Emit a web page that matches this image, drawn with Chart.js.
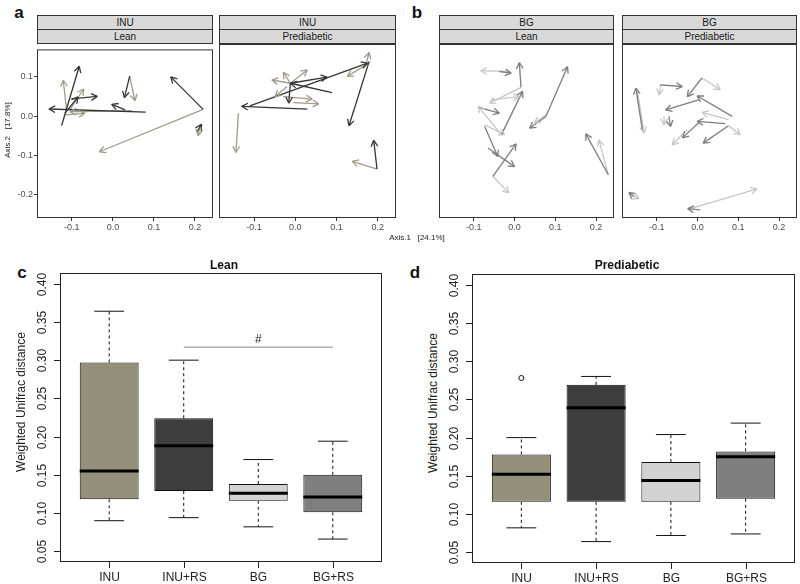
<!DOCTYPE html>
<html lang="en">
<head>
<meta charset="UTF-8">
<title>Weighted Unifrac distance</title>
<style>
  * { box-sizing: border-box; margin: 0; padding: 0; }
  body { position: relative; width: 800px; height: 584px; overflow: hidden; background: #fff;
         font-family: "Liberation Sans", Arial, sans-serif; color: #111; }
  canvas { position: absolute; }
  .strip { position: absolute; height: 15px; background: #d9d9d9; border: 1px solid #333;
           font-size: 10px; line-height: 13px; text-align: center; color: #1a1a1a; }
  .txt { position: absolute; white-space: pre; transform: translate(-50%, -50%); }
  .tag { font-size: 17px; font-weight: bold; }
  .main { font-size: 12px; font-weight: bold; }
  .ylab { font-size: 12px; transform: translate(-50%, -50%) rotate(-90deg); color: #222; }
  .axt { font-size: 8px; color: #222; }
</style>
</head>
<body>
  <div class="txt tag" style="left:19px;top:13px">a</div>
  <div class="txt tag" style="left:417px;top:13px">b</div>
  <div class="txt tag" style="left:22px;top:273px">c</div>
  <div class="txt tag" style="left:415px;top:273px">d</div>

  <div class="strip" style="left:37px;top:15px;width:176px">INU</div>
  <div class="strip" style="left:37px;top:29px;width:176px">Lean</div>
  <div class="strip" style="left:219px;top:15px;width:177px">INU</div>
  <div class="strip" style="left:219px;top:29px;width:177px">Prediabetic</div>
  <div class="strip" style="left:439px;top:15px;width:175px">BG</div>
  <div class="strip" style="left:439px;top:29px;width:175px">Lean</div>
  <div class="strip" style="left:622px;top:15px;width:175px">BG</div>
  <div class="strip" style="left:622px;top:29px;width:175px">Prediabetic</div>

  <canvas id="aLean" width="215" height="191" style="left:0;top:43px"></canvas>
  <canvas id="aPre" width="181" height="191" style="left:217px;top:43px"></canvas>
  <canvas id="bLean" width="179" height="191" style="left:437px;top:43px"></canvas>
  <canvas id="bPre" width="179" height="191" style="left:620px;top:43px"></canvas>

  <div class="txt axt" style="left:417px;top:237px">Axis.1   [24.1%]</div>
  <div class="txt axt" style="left:7px;top:130px;transform:translate(-50%,-50%) rotate(-90deg)">Axis.2   [17.8%]</div>

  <div class="txt main" style="left:224px;top:265px">Lean</div>
  <div class="txt main" style="left:627px;top:265px">Prediabetic</div>
  <div class="txt ylab" style="left:21px;top:402px">Weighted Unifrac distance</div>
  <div class="txt ylab" style="left:433px;top:403px">Weighted Unifrac distance</div>

  <canvas id="cBox" width="400" height="326" style="left:0;top:258px"></canvas>
  <canvas id="dBox" width="400" height="326" style="left:400px;top:258px"></canvas>

  <script src="https://cdn.jsdelivr.net/npm/chart.js"></script>
  <script>
    // ---- panels a/b: PCoA trajectories, arrows [x0, y0, x1, y1] ----
    const facetXTicks = [-0.1, 0.0, 0.1, 0.2];
    const facetYTicks = [-0.2, -0.1, 0.0, 0.1];

    // group 0 = INU, 1 = INU+RS
    const inuLeanArrows = [
      [-0.125, -0.024, -0.082, 0.127], [0.220, 0.017, 0.141, 0.100], [0.220, 0.017, -0.033, -0.091],
      [0.030, 0.016, -0.003, 0.030], [0.080, 0.010, -0.156, 0.018], [0.046, 0.014, -0.105, 0.011],
      [-0.101, 0.044, -0.038, 0.050], [-0.117, 0.007, -0.085, 0.049], [0.041, 0.102, 0.028, 0.047],
      [0.041, 0.100, 0.054, 0.039], [0.204, -0.042, 0.216, -0.021], [0.212, -0.025, 0.208, -0.050],
      [-0.113, 0.016, -0.121, 0.091], [-0.105, 0.016, -0.071, 0.069], [-0.117, 0.003, -0.068, 0.007]
    ];
    const inuLeanGroup = [1, 1, 0, 1, 1, 0, 1, 1, 1, 0, 1, 0, 0, 0, 0];

    const inuPreArrows = [
      [0.179, 0.127, 0.130, -0.032], [-0.110, 0.017, 0.175, 0.123], [0.179, 0.123, 0.126, 0.090],
      [0.029, 0.009, -0.130, 0.016], [-0.138, -0.001, -0.144, -0.098], [0.198, -0.139, 0.190, -0.068],
      [0.198, -0.139, 0.138, -0.120], [0.089, 0.050, -0.012, 0.073], [-0.012, 0.073, 0.077, 0.088],
      [-0.012, 0.073, -0.016, 0.024], [-0.012, 0.073, -0.057, 0.081], [-0.012, 0.073, -0.029, 0.100],
      [-0.012, 0.073, 0.029, 0.106], [-0.020, 0.065, -0.049, 0.040], [-0.030, 0.040, 0.041, 0.034],
      [-0.005, 0.025, 0.057, 0.022], [0.171, 0.119, 0.179, 0.149]
    ];
    const inuPreGroup = [1, 1, 0, 1, 0, 1, 0, 1, 1, 1, 0, 0, 0, 0, 0, 0, 0];

    // group 0 = BG, 1 = BG+RS
    const bgLeanArrows = [
      [-0.016, 0.102, -0.083, 0.104], [-0.037, 0.102, -0.008, 0.098], [0.016, 0.063, 0.012, 0.124],
      [0.016, 0.063, -0.061, 0.024], [0.077, -0.009, 0.130, 0.114], [0.077, -0.009, 0.037, -0.038],
      [-0.032, -0.054, 0.020, 0.053], [-0.032, -0.054, -0.089, 0.016], [-0.089, 0.014, -0.037, -0.001],
      [-0.073, -0.030, -0.024, -0.054], [-0.073, -0.034, -0.041, -0.108], [-0.065, -0.087, 0.000, -0.133],
      [-0.053, -0.157, 0.004, -0.077], [-0.053, -0.157, -0.014, -0.198], [0.230, -0.153, 0.175, -0.052],
      [0.230, -0.153, 0.207, -0.067], [0.077, -0.005, 0.049, -0.025], [-0.057, 0.032, 0.012, 0.040]
    ];
    const bgLeanGroup = [0, 1, 1, 0, 1, 1, 1, 0, 1, 0, 1, 1, 1, 0, 1, 0, 0, 0];

    const bgPreArrows = [
      [-0.135, -0.042, -0.151, 0.061], [-0.147, 0.053, -0.131, -0.050], [-0.092, 0.069, -0.037, 0.065],
      [-0.090, 0.069, -0.094, 0.044], [0.011, 0.086, -0.025, 0.040], [0.011, 0.086, 0.056, 0.057],
      [0.003, 0.032, -0.078, 0.007], [0.085, -0.009, -0.001, 0.042], [0.076, -0.017, 0.011, 0.001],
      [0.068, -0.027, -0.001, -0.021], [0.007, -0.021, -0.037, -0.062], [-0.025, -0.042, -0.062, -0.079],
      [0.076, -0.032, 0.014, -0.075], [0.076, -0.032, 0.105, -0.054], [-0.070, -0.009, -0.066, -0.034],
      [-0.082, -0.009, -0.082, -0.030], [-0.021, -0.238, 0.146, -0.188], [0.007, -0.240, -0.024, -0.237],
      [-0.155, -0.207, -0.168, -0.197], [-0.165, -0.202, -0.143, -0.212]
    ];
    const bgPreGroup = [1, 0, 1, 0, 1, 0, 1, 1, 0, 1, 1, 0, 1, 0, 1, 0, 0, 1, 1, 0];

    // ---- panels c/d: boxplot statistics ----
    const categories = ['INU', 'INU+RS', 'BG', 'BG+RS'];
    const boxTicks = [0.05, 0.10, 0.15, 0.20, 0.25, 0.30, 0.35, 0.40];

    const leanLow  = [0.090, 0.094, 0.082, 0.066];
    const leanQ1   = [0.118, 0.129, 0.116, 0.101];
    const leanMed  = [0.155, 0.188, 0.126, 0.121];
    const leanQ3   = [0.297, 0.224, 0.138, 0.150];
    const leanHigh = [0.364, 0.300, 0.170, 0.194];
    const leanSig  = [2, 4, 0.317];          // from category, to category, height

    const preLow  = [0.082, 0.064, 0.072, 0.074];
    const preQ1   = [0.116, 0.116, 0.116, 0.120];
    const preMed  = [0.152, 0.239, 0.144, 0.175];
    const preQ3   = [0.178, 0.269, 0.168, 0.182];
    const preHigh = [0.200, 0.280, 0.204, 0.219];
    const preOutliers = [[1, 0.278]];

    const boxColors = ['#948f78', '#3d3d3d', '#d3d3d3', '#7f7f7f'];
    const inuColors = ['#a09c8a', '#353535'];
    const bgColors  = ['#c6c6c6', '#7d7d7d'];

    const FONT = '"Liberation Sans", Arial, sans-serif';
    Chart.defaults.font.family = FONT;

    const arrowHeads = {
      id: 'arrowHeads',
      afterDatasetsDraw(chart) {
        const ctx = chart.ctx;
        chart.data.datasets.forEach((ds, i) => {
          const pts = chart.getDatasetMeta(i).data;
          const a = pts[0], b = pts[1];
          const ang = Math.atan2(b.y - a.y, b.x - a.x);
          ctx.save();
          ctx.strokeStyle = ds.borderColor;
          ctx.lineWidth = ds.borderWidth;
          ctx.beginPath();
          [-1, 1].forEach(s => {
            ctx.moveTo(b.x, b.y);
            ctx.lineTo(b.x - 7 * Math.cos(ang + s * 0.5), b.y - 7 * Math.sin(ang + s * 0.5));
          });
          ctx.stroke();
          ctx.restore();
        });
      }
    };

    const frame = {
      id: 'frame',
      afterDraw(chart) {
        const { ctx, chartArea: a } = chart;
        ctx.save();
        ctx.strokeStyle = '#333';
        ctx.lineWidth = 1;
        ctx.strokeRect(a.left + 0.5, a.top + 0.5, a.width - 1, a.height - 1);
        ctx.restore();
      }
    };

    function facet(id, arrows, groups, colors, showY) {
      const datasets = arrows.map((r, i) => ({
        data: [{ x: r[0], y: r[1] }, { x: r[2], y: r[3] }],
        borderColor: colors[groups[i]],
        borderWidth: 1.3,
        pointRadius: 0,
        showLine: true,
        order: groups[i] === 1 ? 0 : 1
      }));
      const ticks = { font: { size: 9 }, color: '#4d4d4d', padding: 1, callback: v => v.toFixed(1) };
      const grid = { drawOnChartArea: false, tickLength: 3, color: '#333' };
      return new Chart(document.getElementById(id), {
        type: 'scatter',
        data: { datasets },
        options: {
          responsive: false, animation: false, events: [],
          layout: { padding: { left: showY ? 0 : 2, right: 2, top: 1, bottom: 0 } },
          plugins: { legend: { display: false }, tooltip: { enabled: false } },
          scales: {
            x: {
              min: -0.185, max: 0.244, grid, ticks, border: { display: false },
              afterBuildTicks: s => { s.ticks = facetXTicks.map(v => ({ value: v })); },
              afterFit: s => { s.height = 16; }
            },
            y: {
              display: showY, min: -0.26, max: 0.17, grid, ticks, border: { display: false },
              afterBuildTicks: s => { s.ticks = facetYTicks.map(v => ({ value: v })); },
              afterFit: s => { s.width = showY ? 37 : 0; }
            }
          }
        },
        plugins: [arrowHeads, frame]
      });
    }

    facet('aLean', inuLeanArrows, inuLeanGroup, inuColors, true);
    facet('aPre', inuPreArrows, inuPreGroup, inuColors, false);
    facet('bLean', bgLeanArrows, bgLeanGroup, bgColors, false);
    facet('bPre', bgPreArrows, bgPreGroup, bgColors, false);

    // R-style axes for the boxplots
    const rAxes = {
      id: 'rAxes',
      afterDraw(chart, args, opts) {
        const { ctx, chartArea: a, scales: { x, y } } = chart;
        ctx.save();
        ctx.strokeStyle = '#222';
        ctx.fillStyle = '#222';
        ctx.lineWidth = 1;
        ctx.strokeRect(a.left + 0.5, a.top + 0.5, a.width - 1, a.height - 1);
        ctx.font = '12px ' + FONT;
        ctx.textAlign = 'center';
        ctx.textBaseline = 'middle';
        boxTicks.forEach(v => {
          const py = Math.round(y.getPixelForValue(v)) + 0.5;
          ctx.beginPath(); ctx.moveTo(a.left, py); ctx.lineTo(a.left - 6, py); ctx.stroke();
          ctx.save();
          ctx.translate(a.left - 17, py);
          ctx.rotate(-Math.PI / 2);
          ctx.fillText(v.toFixed(2), 0, 0);
          ctx.restore();
        });
        categories.forEach((c, i) => {
          const px = Math.round(x.getPixelForValue(i + 1)) + 0.5;
          ctx.beginPath(); ctx.moveTo(px, a.bottom); ctx.lineTo(px, a.bottom + 6); ctx.stroke();
          ctx.fillText(c, px, a.bottom + 16);
        });
        if (opts.sig) {
          ctx.fillText('#', x.getPixelForValue((opts.sig[0] + opts.sig[1]) / 2), y.getPixelForValue(opts.sig[2]) - 7);
        }
        ctx.restore();
      }
    };

    function segs(list) {
      const d = [];
      list.forEach(p => d.push({ x: p[0], y: p[1] }, { x: p[2], y: p[3] }, { x: p[2], y: null }));
      return d;
    }

    const HALF = 0.395, CAP = 0.2;
    const lineStyle = { type: 'line', pointRadius: 0, fill: false, spanGaps: false, tension: 0 };

    function boxChart(id, lo, q1, med, q3, hi, pad, extra) {
      const xs = categories.map((c, i) => i + 1);
      const datasets = [
        { ...lineStyle, data: segs(xs.map((v, i) => [v - HALF, med[i], v + HALF, med[i]])),
          borderColor: '#000', borderWidth: 3, order: 0 },
        { type: 'bar', data: xs.map((v, i) => ({ x: v, y: [q1[i], q3[i]] })),
          backgroundColor: boxColors, borderColor: '#111', borderWidth: 1, borderSkipped: false,
          barPercentage: 2 * HALF, categoryPercentage: 1, order: 1 },
        { ...lineStyle, data: segs(xs.flatMap((v, i) => [[v, q3[i], v, hi[i]], [v, q1[i], v, lo[i]]])),
          borderColor: '#111', borderWidth: 1, borderDash: [3, 3], order: 2 },
        { ...lineStyle, data: segs(xs.flatMap((v, i) => [[v - CAP, hi[i], v + CAP, hi[i]], [v - CAP, lo[i], v + CAP, lo[i]]])),
          borderColor: '#111', borderWidth: 1, order: 2 }
      ];
      if (extra.outliers) {
        datasets.push({ type: 'scatter', data: extra.outliers.map(o => ({ x: o[0], y: o[1] })),
          pointRadius: 2.5, pointBackgroundColor: '#fff', pointBorderColor: '#111', pointBorderWidth: 1, order: 0 });
      }
      if (extra.sig) {
        datasets.push({ ...lineStyle, data: [{ x: extra.sig[0], y: extra.sig[2] }, { x: extra.sig[1], y: extra.sig[2] }],
          borderColor: '#888', borderWidth: 1, order: 3 });
      }
      return new Chart(document.getElementById(id), {
        type: 'bar',
        data: { datasets },
        options: {
          responsive: false, animation: false, events: [],
          layout: { padding: pad },
          plugins: { legend: { display: false }, tooltip: { enabled: false }, rAxes: { sig: extra.sig } },
          scales: {
            x: { type: 'linear', min: 0.34, max: 4.66, offset: false, display: false,
                 afterBuildTicks: s => { s.ticks = xs.map(v => ({ value: v })); } },
            y: { min: 0.036, max: 0.414, display: false }
          }
        },
        plugins: [rAxes]
      });
    }

    boxChart('cBox', leanLow, leanQ1, leanMed, leanQ3, leanHigh,
      { left: 60, right: 18, top: 15, bottom: 22 }, { sig: leanSig });
    boxChart('dBox', preLow, preQ1, preMed, preQ3, preHigh,
      { left: 72, right: 4, top: 16, bottom: 21 }, { outliers: preOutliers });
  </script>
</body>
</html>
